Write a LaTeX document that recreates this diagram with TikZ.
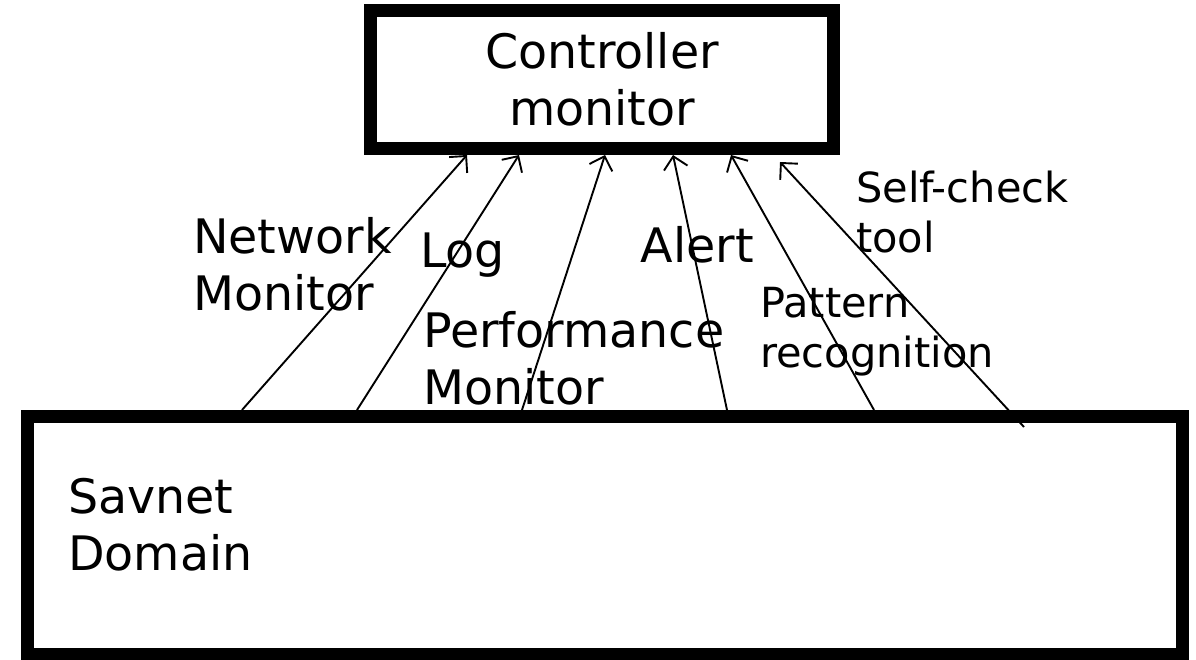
\documentclass[tikz,border=0pt]{standalone}
\usepackage{fontspec}
\setmainfont{DejaVu Sans}
\usetikzlibrary{arrows.meta}

\begin{document}
\begin{tikzpicture}[x=1pt,y=-1pt,
  box/.style={draw=black,line width=13pt,fill=white,inner sep=0pt,align=center,font=\fontsize{47.5}{57}\selectfont},
  lbl/.style={anchor=north west,inner sep=0pt,align=left,font=\fontsize{47.5}{57}\selectfont},
  lblsmall/.style={lbl,font=\fontsize{41.5}{50}\selectfont},
  feed/.style={line width=1.9pt,-{Straight Barb[length=12pt,width=24pt]}}]
\useasboundingbox (0,0) rectangle (1196,660);
\node[box,minimum width=463pt,minimum height=138pt] (ctl) at (602,79.5) {Controller\\monitor};
\node[box,minimum width=1155pt,minimum height=238pt] (dom) at (605,535.5) {};
\node[lbl] (domlbl) at (68,478.5) {Savnet\\Domain};
% feeds from the domain up to the controller
\draw[feed] ([xshift=221pt]dom.north west) -- ([xshift=103pt]ctl.south west);
\draw[feed] ([xshift=336pt]dom.north west) -- ([xshift=155pt]ctl.south west);
\draw[feed] ([xshift=501pt]dom.north west) -- ([xshift=241pt]ctl.south west);
\draw[feed] ([xshift=706pt]dom.north west) -- ([xshift=309pt]ctl.south west);
\draw[feed] ([xshift=853pt]dom.north west) -- ([xshift=367pt]ctl.south west);
\draw[feed] ([xshift=1003pt,yshift=-17pt]dom.north west) -- ([xshift=416pt,yshift=-7pt]ctl.south west);
% labels
\node[lbl] (netmon) at (193,217.5) {Network\\Monitor};
\node[lbl] (log) at (420,233) {Log};
\node[lbl] (perfmon) at (423,311.5) {Performance\\Monitor};
\node[lbl] (alert) at (640.5,226.5) {Alert};
\node[lblsmall] (pattern) at (760,287) {Pattern\\recognition};
\node[lblsmall] (selfchk) at (856,171) {Self-check\\tool};
\end{tikzpicture}
\end{document}
